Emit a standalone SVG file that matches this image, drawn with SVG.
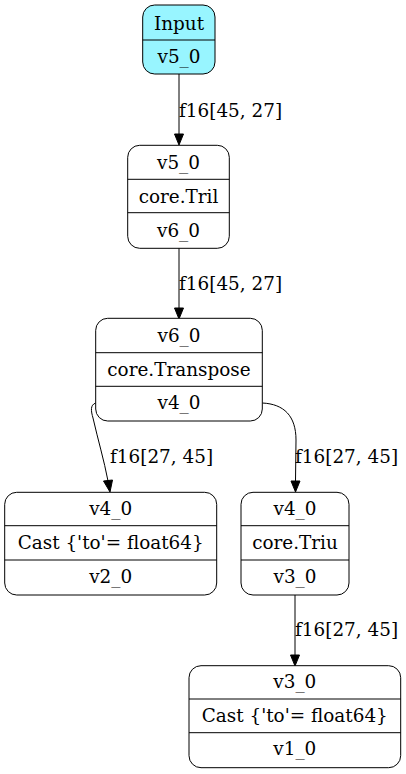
<svg xmlns="http://www.w3.org/2000/svg" width="406" height="774" viewBox="0 0 406 774">
<style>
.box{fill:#ffffff;stroke:#000000;stroke-width:1}
.in{fill:#98f5ff;stroke:#000000;stroke-width:1}
.div{stroke:#000000;stroke-width:1}
text{font-family:"DejaVu Serif","Liberation Serif",serif;font-size:18.4px;fill:#000000;text-anchor:middle}
.lbl{text-anchor:start}
.edge{fill:none;stroke:#000000;stroke-width:1}
.ah{fill:#000000;stroke:#000000;stroke-width:1}
</style>
<rect width="406" height="774" fill="#ffffff"/>
<g id="connectors">
<path class="edge" d="M179,74 L179,134"/>
<polygon class="ah" points="174.5,134 179,145 183.5,134"/>
<text class="lbl" x="179" y="117">f16[45, 27]</text>
<path class="edge" d="M179,248 L179,308"/>
<polygon class="ah" points="174.5,308 179,319 183.5,308"/>
<text class="lbl" x="179" y="290">f16[45, 27]</text>
<path class="edge" d="M95.7,403 C90,405 91,411 93,418 C98,440 104,460 108,481"/>
<polygon class="ah" points="103.5,481 110,492 112.5,480"/>
<text class="lbl" x="110" y="463">f16[27, 45]</text>
<path class="edge" d="M262.3,403 C284,404 296,416 296,440 L295.5,481"/>
<polygon class="ah" points="291,481 295.5,492 300,481"/>
<text class="lbl" x="295" y="463">f16[27, 45]</text>
<path class="edge" d="M295,595 L295,655"/>
<polygon class="ah" points="290.5,655 295,666 299.5,655"/>
<text class="lbl" x="295" y="636">f16[27, 45]</text>
</g>
<g id="input">
<rect class="in" x="142.7" y="5" width="72.3" height="69" rx="12"/>
<line class="div" x1="142.7" y1="40" x2="215" y2="40"/>
<text x="179" y="30">Input</text>
<text x="179" y="63">v5_0</text>
</g>
<g id="tril">
<rect class="box" x="127.7" y="145.3" width="101.6" height="103" rx="12"/>
<line class="div" x1="127.7" y1="179.3" x2="229.3" y2="179.3"/>
<line class="div" x1="127.7" y1="212.7" x2="229.3" y2="212.7"/>
<text x="178.5" y="169.3">v5_0</text>
<text x="178.5" y="202.7">core.Tril</text>
<text x="178.5" y="236.5">v6_0</text>
</g>
<g id="transpose">
<rect class="box" x="95.7" y="318.3" width="166.6" height="102.7" rx="12"/>
<line class="div" x1="95.7" y1="352.7" x2="262.3" y2="352.7"/>
<line class="div" x1="95.7" y1="386.3" x2="262.3" y2="386.3"/>
<text x="179" y="342.3">v6_0</text>
<text x="179" y="375.7">core.Transpose</text>
<text x="179" y="409.3">v4_0</text>
</g>
<g id="cast1">
<rect class="box" x="4.7" y="492.3" width="212" height="102.7" rx="12"/>
<line class="div" x1="4.7" y1="525.7" x2="216.7" y2="525.7"/>
<line class="div" x1="4.7" y1="560" x2="216.7" y2="560"/>
<text x="110.7" y="515">v4_0</text>
<text x="110.7" y="549">Cast {'to'= float64}</text>
<text x="110.7" y="582.7">v2_0</text>
</g>
<g id="triu">
<rect class="box" x="241" y="492.3" width="108" height="102.7" rx="12"/>
<line class="div" x1="241" y1="525.7" x2="349" y2="525.7"/>
<line class="div" x1="241" y1="560" x2="349" y2="560"/>
<text x="295" y="515">v4_0</text>
<text x="295" y="549">core.Triu</text>
<text x="295" y="582.7">v3_0</text>
</g>
<g id="cast2">
<rect class="box" x="189" y="665.7" width="211.7" height="102" rx="12"/>
<line class="div" x1="189" y1="699" x2="400.7" y2="699"/>
<line class="div" x1="189" y1="732.7" x2="400.7" y2="732.7"/>
<text x="294.8" y="688.3">v3_0</text>
<text x="294.8" y="721.7">Cast {'to'= float64}</text>
<text x="294.8" y="755">v1_0</text>
</g>
</svg>
